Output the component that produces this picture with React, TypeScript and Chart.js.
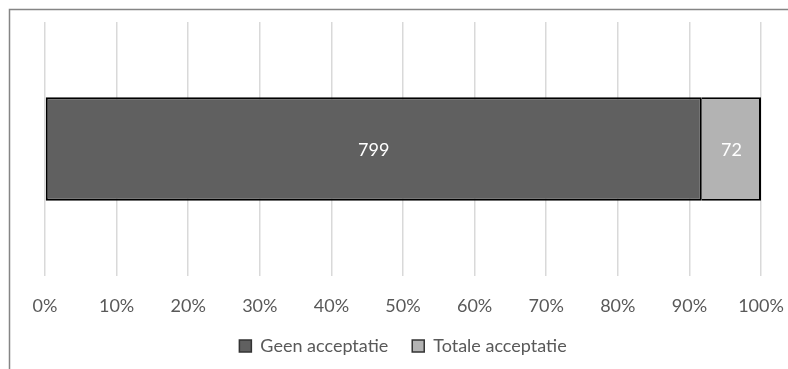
import React, { useEffect, useRef } from "react";
import { Chart, registerables } from "chart.js";

Chart.register(...registerables);

// Response counts per category (single stacked bar)
const categories = [""];
const seriesNames = ["Geen acceptatie", "Totale acceptatie"];
const geenAcceptatie = [799];
const totaleAcceptatie = [72];
const seriesColors = ["#606060", "#b3b3b3"];
const percentTicks = [0, 10, 20, 30, 40, 50, 60, 70, 80, 90, 100];

const FONT = "Lato, 'Open Sans', sans-serif";

// Share of each series in the row total, in percent
function toPercent(values: number[], totals: number[]): number[] {
  return values.map((v, i) => (v / totals[i]) * 100);
}

const frame = {
  id: "frame",
  beforeDraw(chart: any) {
    const { ctx, width, height } = chart;
    ctx.save();
    ctx.fillStyle = "#ffffff";
    ctx.fillRect(0, 0, width, height);
    ctx.strokeStyle = "#858585";
    ctx.lineWidth = 1.5;
    ctx.beginPath();
    ctx.moveTo(9.5, height);
    ctx.lineTo(9.5, 9.5);
    ctx.lineTo(width, 9.5);
    ctx.stroke();
    ctx.restore();
  },
};

const countLabels = {
  id: "countLabels",
  afterDatasetsDraw(chart: any) {
    const { ctx } = chart;
    ctx.save();
    ctx.fillStyle = "#ffffff";
    ctx.font = `18px ${FONT}`;
    ctx.textAlign = "center";
    ctx.textBaseline = "middle";
    chart.data.datasets.forEach((ds: any, di: number) => {
      const meta = chart.getDatasetMeta(di);
      meta.data.forEach((el: any, i: number) => {
        const cx = (el.x + el.base) / 2;
        ctx.fillText(String(ds.counts[i]), cx, el.y + 1);
      });
    });
    ctx.restore();
  },
};

export default function App() {
  const ref = useRef<HTMLCanvasElement | null>(null);

  useEffect(() => {
    if (!ref.current) return;
    const totals = geenAcceptatie.map((v, i) => v + totaleAcceptatie[i]);
    const seriesValues = [geenAcceptatie, totaleAcceptatie];

    const chart = new Chart(ref.current, {
      type: "bar",
      data: {
        labels: categories,
        datasets: seriesValues.map((vals, k) => ({
          label: seriesNames[k],
          data: toPercent(vals, totals),
          counts: vals,
          backgroundColor: seriesColors[k],
          borderColor: "#000000",
          borderWidth: 2,
          // the segment divider is drawn once, by the left segment
          borderSkipped: k === 0 ? false : "left",
          categoryPercentage: 1,
          barPercentage: 0.408,
        })) as any,
      },
      options: {
        indexAxis: "y",
        animation: false,
        responsive: false,
        maintainAspectRatio: false,
        layout: { padding: { left: 45, right: 27, top: 22, bottom: 4 } },
        scales: {
          x: {
            stacked: true,
            min: 0,
            max: 100,
            afterBuildTicks(scale: any) {
              scale.ticks = percentTicks.map((v) => ({ value: v }));
            },
            afterFit(scale: any) {
              scale.height = 37;
            },
            ticks: {
              callback: (v: any) => `${v}%`,
              color: "#595959",
              font: { family: FONT, size: 18 },
              padding: 2,
              maxRotation: 0,
            },
            grid: {
              color: "#d9d9d9",
              lineWidth: 1.5,
              drawTicks: true,
              tickLength: 17,
              tickColor: "rgba(0,0,0,0)",
            },
            border: { display: false },
          },
          y: {
            stacked: true,
            display: false,
          },
        },
        plugins: {
          legend: {
            position: "bottom",
            labels: {
              color: "#595959",
              font: { family: FONT, size: 18 },
              boxWidth: 12,
              boxHeight: 12,
              padding: 24,
              generateLabels: (c: any) =>
                c.data.datasets.map((ds: any, i: number) => ({
                  text: ds.label,
                  fillStyle: ds.backgroundColor,
                  strokeStyle: "#333333",
                  lineWidth: 1.5,
                  datasetIndex: i,
                  fontColor: "#595959",
                })),
            },
          },
          tooltip: { enabled: false },
        },
      } as any,
      plugins: [frame, countLabels],
    });
    return () => chart.destroy();
  }, []);

  return (
    <div style={{ position: "fixed", left: 0, top: 0, width: 788, height: 369 }}>
      <canvas ref={ref} width={788} height={369} style={{ display: "block" }} />
    </div>
  );
}
